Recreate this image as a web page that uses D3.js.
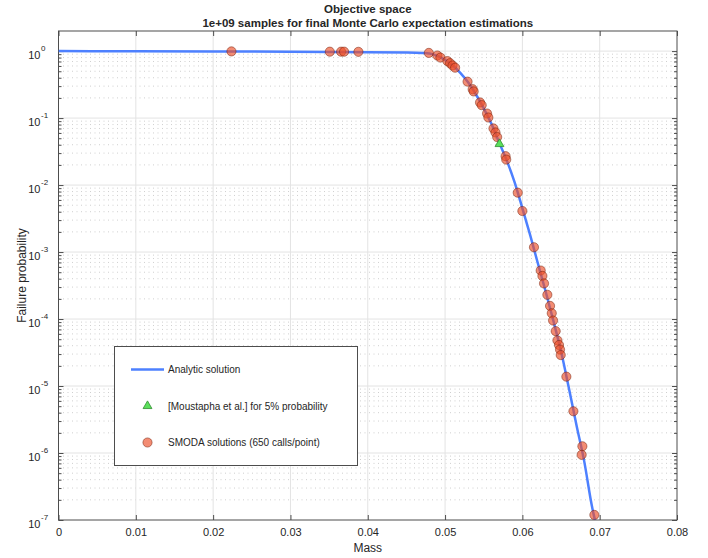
<!DOCTYPE html>
<html lang="en">
<head>
<meta charset="utf-8">
<script src="https://d3js.org/d3.v7.min.js"></script>
<style>
  body { margin: 0; background: #fff; }
  text { font-family: "Liberation Sans", Arial, Helvetica, sans-serif; fill: #262626; }
  .axis path, .axis line { stroke: #4d4d4d; }
</style>
</head>
<body>
<div id="chart"></div>
<script>

// analytic Pareto front
var analyticMass = [0, 0.01, 0.02, 0.03, 0.04, 0.045, 0.047, 0.048, 0.049, 0.050, 0.051, 0.052, 0.053,
  0.054, 0.055, 0.056, 0.057, 0.058, 0.059, 0.060, 0.061, 0.062, 0.063, 0.064, 0.065, 0.066,
  0.067, 0.068, 0.069, 0.0697];
var analyticProb = [1.0, 0.995, 0.99, 0.98, 0.965, 0.955, 0.94, 0.92, 0.85, 0.74, 0.61, 0.47, 0.34,
  0.225, 0.14, 0.082, 0.043, 0.023, 0.011, 0.0045, 0.0018, 6.8e-4, 2.6e-4, 9.5e-5, 3.3e-5, 9.5e-6,
  2.6e-6, 7.5e-7, 1.6e-7, 7e-8];

// SMODA solutions
var smodaMass = [0.02237, 0.03509, 0.03655, 0.03694, 0.03879, 0.0479, 0.0490, 0.0494, 0.0503, 0.05065,
  0.05096, 0.0513, 0.05291, 0.05357, 0.0537, 0.05452, 0.05474, 0.05543, 0.0556, 0.05626, 0.05652,
  0.05674, 0.05783, 0.05791, 0.0594, 0.0600, 0.0615, 0.06237, 0.06259, 0.0628, 0.06323, 0.06358,
  0.0638, 0.06397, 0.06431, 0.06453, 0.06474, 0.06487, 0.06496, 0.06569, 0.0666, 0.06776, 0.06767,
  0.06931];
var smodaProb = [0.99, 0.98, 0.98, 0.98, 0.975, 0.94, 0.86, 0.80, 0.71, 0.66,
  0.61, 0.565, 0.35, 0.27, 0.25, 0.171, 0.156, 0.117, 0.102, 0.070, 0.061,
  0.052, 0.027, 0.024, 0.0077, 0.0041, 0.00118, 5.3e-4, 4.4e-4, 3.4e-4, 2.3e-4, 1.57e-4,
  1.22e-4, 9.5e-5, 6.6e-5, 4.8e-5, 4.1e-5, 3.5e-5, 2.9e-5, 1.38e-5, 4.2e-6, 1.26e-6, 9.4e-7,
  1.19e-7];

// [Moustapha et al.]
var refMass = [0.05704];
var refProb = [0.041];

var xTicks = [0, 0.01, 0.02, 0.03, 0.04, 0.05, 0.06, 0.07, 0.08];
var yExponents = [0, -1, -2, -3, -4, -5, -6, -7];

var width = 708, height = 558;
var pLeft = 58.5, pRight = 677, pTop = 31, pBottom = 520;

var x = d3.scaleLinear().domain([0, 0.08]).range([pLeft, pRight]);
var y = d3.scaleLog().domain([1e-7, Math.pow(10, 0.3)]).range([pBottom, pTop]);

var svg = d3.select("#chart").append("svg")
    .attr("width", width)
    .attr("height", height);

svg.append("rect").attr("width", width).attr("height", height).attr("fill", "#fff");

svg.append("clipPath").attr("id", "plotclip")
  .append("rect")
    .attr("x", pLeft).attr("y", pTop)
    .attr("width", pRight - pLeft).attr("height", pBottom - pTop);

// minor y values (2..9 per decade)
var yMinor = [];
yExponents.forEach(function(e) {
    for (var k = 2; k <= 9; k++) {
        var v = k * Math.pow(10, e);
        if (v <= y.domain()[1]) yMinor.push(v);
    }
});
var yMajor = yExponents.map(function(e) { return Math.pow(10, e); });

// grid
var grid = svg.append("g");
grid.selectAll(".ymin")
    .data(yMinor)
    .enter().append("line")
    .attr("x1", pLeft).attr("x2", pRight)
    .attr("y1", function(d) { return y(d); })
    .attr("y2", function(d) { return y(d); })
    .attr("stroke", "#cfcfcf")
    .attr("stroke-width", 1)
    .attr("stroke-dasharray", "1,3.5");
grid.selectAll(".ymaj")
    .data(yMajor.slice(0, -1))
    .enter().append("line")
    .attr("x1", pLeft).attr("x2", pRight)
    .attr("y1", function(d) { return y(d); })
    .attr("y2", function(d) { return y(d); })
    .attr("stroke", "#e3e3e3");
grid.selectAll(".xmaj")
    .data(xTicks.slice(1, -1))
    .enter().append("line")
    .attr("y1", pTop).attr("y2", pBottom)
    .attr("x1", function(d) { return x(d); })
    .attr("x2", function(d) { return x(d); })
    .attr("stroke", "#e3e3e3");

// axes
var xAxis = svg.append("g").attr("class", "axis")
    .attr("transform", "translate(0," + pBottom + ")")
    .call(d3.axisBottom(x).tickValues(xTicks).tickSize(-5).tickSizeOuter(0).tickPadding(8)
        .tickFormat(function(d) { return d === 0 ? "0" : d3.format(".2f")(d); }));
xAxis.selectAll("text").attr("font-size", 11).style("font-family", "Liberation Sans, Arial, sans-serif").attr("fill", "#262626");

svg.append("g").attr("class", "axis")
    .attr("transform", "translate(0," + pTop + ")")
    .call(d3.axisTop(x).tickValues(xTicks).tickSize(-5).tickSizeOuter(0).tickFormat(""));

var yAxis = svg.append("g").attr("class", "axis")
    .attr("transform", "translate(" + pLeft + ",0)")
    .call(d3.axisLeft(y).tickValues(yMajor).tickSize(-5).tickSizeOuter(0).tickFormat(""));
yAxis.selectAll(".tick").append("text")
    .attr("x", -18).attr("y", 7)
    .attr("text-anchor", "end")
    .attr("font-size", 11)
    .text("10");
yAxis.selectAll(".tick").append("text")
    .attr("x", -17.5).attr("y", -0.5)
    .attr("text-anchor", "start")
    .attr("font-size", 8)
    .text(function(d) { return Math.round(Math.log10(d)); });

svg.append("g").attr("class", "axis")
    .attr("transform", "translate(" + pLeft + ",0)")
    .call(d3.axisLeft(y).tickValues(yMinor).tickSize(-3).tickSizeOuter(0).tickFormat(""));
svg.append("g").attr("class", "axis")
    .attr("transform", "translate(" + pRight + ",0)")
    .call(d3.axisRight(y).tickValues(yMajor).tickSize(-5).tickSizeOuter(0).tickFormat(""));
svg.append("g").attr("class", "axis")
    .attr("transform", "translate(" + pRight + ",0)")
    .call(d3.axisRight(y).tickValues(yMinor).tickSize(-3).tickSizeOuter(0).tickFormat(""));

svg.selectAll(".axis .domain").remove();
svg.append("rect")
    .attr("x", pLeft).attr("y", pTop)
    .attr("width", pRight - pLeft).attr("height", pBottom - pTop)
    .attr("fill", "none")
    .attr("stroke", "#4d4d4d");

// analytic line
var lineData = analyticMass.map(function(m, i) { return [m, analyticProb[i]]; });
var line = d3.line()
    .x(function(d) { return x(d[0]); })
    .y(function(d) { return y(d[1]); })
    .curve(d3.curveMonotoneX);
svg.append("path")
    .datum(lineData)
    .attr("clip-path", "url(#plotclip)")
    .attr("d", line)
    .attr("fill", "none")
    .attr("stroke", "#4d80ff")
    .attr("stroke-width", 2.5);

// SMODA points
svg.append("g").selectAll("circle")
    .data(smodaMass.map(function(m, i) { return [m, smodaProb[i]]; }))
    .enter().append("circle")
    .attr("cx", function(d) { return x(d[0]); })
    .attr("cy", function(d) { return y(d[1]); })
    .attr("r", 4.6)
    .attr("fill", "rgba(236,78,40,0.65)")
    .attr("stroke", "rgba(110,25,5,0.6)")
    .attr("stroke-width", 0.8);

// reference triangle
var tri = d3.symbol().type(d3.symbolTriangle).size(34);
svg.append("g").selectAll("path")
    .data(refMass.map(function(m, i) { return [m, refProb[i]]; }))
    .enter().append("path")
    .attr("d", tri)
    .attr("transform", function(d) { return "translate(" + x(d[0]) + "," + y(d[1]) + ")"; })
    .attr("fill", "#5be05b")
    .attr("stroke", "#2e8b2e")
    .attr("stroke-width", 0.8);

// titles and labels
svg.append("text")
    .attr("x", (pLeft + pRight) / 2).attr("y", 13)
    .attr("text-anchor", "middle")
    .attr("font-size", 11.5).attr("font-weight", "bold")
    .text("Objective space");
svg.append("text")
    .attr("x", (pLeft + pRight) / 2).attr("y", 27)
    .attr("text-anchor", "middle")
    .attr("font-size", 11.5).attr("font-weight", "bold")
    .text("1e+09 samples for final Monte Carlo expectation estimations");
svg.append("text")
    .attr("x", (pLeft + pRight) / 2).attr("y", 552)
    .attr("text-anchor", "middle")
    .attr("font-size", 12)
    .text("Mass");
svg.append("text")
    .attr("transform", "translate(26," + (pTop + pBottom) / 2 + ") rotate(-90)")
    .attr("text-anchor", "middle")
    .attr("font-size", 12)
    .text("Failure probability");

// legend
var lg = svg.append("g");
lg.append("rect")
    .attr("x", 114.5).attr("y", 346.5)
    .attr("width", 243).attr("height", 119)
    .attr("fill", "#fff")
    .attr("stroke", "#4d4d4d");
lg.append("line")
    .attr("x1", 131).attr("x2", 164).attr("y1", 369.5).attr("y2", 369.5)
    .attr("stroke", "#4d80ff").attr("stroke-width", 2.5);
lg.append("path")
    .attr("d", tri)
    .attr("transform", "translate(147.5,406)")
    .attr("fill", "#5be05b").attr("stroke", "#2e8b2e").attr("stroke-width", 0.8);
lg.append("circle")
    .attr("cx", 147.5).attr("cy", 442.5).attr("r", 4.6)
    .attr("fill", "rgba(236,78,40,0.65)")
    .attr("stroke", "rgba(110,25,5,0.6)").attr("stroke-width", 0.8);
var legendText = ["Analytic solution", "[Moustapha et al.] for 5% probability", "SMODA solutions (650 calls/point)"];
var legendY = [373, 410, 446];
lg.selectAll(".lt")
    .data(legendText)
    .enter().append("text")
    .attr("x", 168)
    .attr("y", function(d, i) { return legendY[i]; })
    .attr("font-size", 10)
    .text(function(d) { return d; });

</script>
</body>
</html>
